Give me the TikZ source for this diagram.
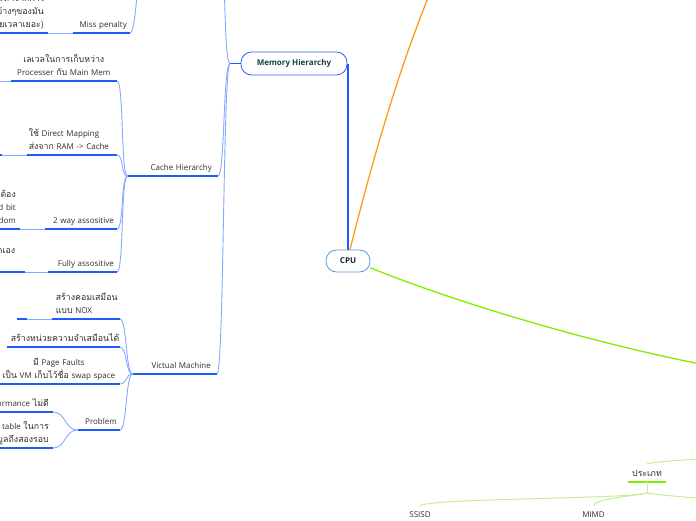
\documentclass[tikz,border=0pt]{standalone}
\usepackage{fontspec}
\setmainfont{Open Sans}
\newfontfamily\thaifont[Script=Thai,Scale=1.1]{Loma}
\newcommand{\tht}[1]{{\thaifont #1}}
\usetikzlibrary{positioning,calc}
\definecolor{Ink}{HTML}{2E2E2E}
\definecolor{LineBlue}{HTML}{1E5BFF}
\definecolor{LinkBlue}{HTML}{86A8FF}
\definecolor{MemBorder}{HTML}{2E63F5}
\definecolor{MemText}{HTML}{17423A}
\definecolor{CpuBorder}{HTML}{5A9BD8}
\definecolor{CpuText}{HTML}{16213E}
\definecolor{Orange}{HTML}{FF9A1A}
\definecolor{Lime}{HTML}{80F000}
\definecolor{LimeLight}{HTML}{C6EE94}

\tikzset{
  topic/.style={font=\fontsize{8}{13}\selectfont, text=Ink, inner xsep=4pt,
    inner ysep=1pt, execute at end node=\strut, anchor=south east},
  leaf/.style={font=\fontsize{8}{13}\selectfont, text=Ink, inner sep=0pt,
    minimum height=18pt},
  uline/.style={LineBlue, line width=1.1pt},
  link/.style={LinkBlue, line width=0.9pt},
  limelink/.style={LimeLight, line width=1pt},
  pill/.style={draw, fill=white, rounded corners=10.5pt, line width=0.8pt,
    font=\fontsize{8}{9}\selectfont\bfseries, inner sep=0pt}
}

\begin{document}
\begin{tikzpicture}[x=1pt,y=-1pt]
  \useasboundingbox (0,0) rectangle (696,520);

  % main topics
  \node[pill, draw=CpuBorder, text=CpuText, minimum width=44pt, minimum height=22pt] (cpu) at (348,261) {CPU};
  \node[pill, draw=MemBorder, text=MemText, minimum width=106pt, minimum height=23pt] (mem) at (294,63.5) {Memory Hierarchy};

  % memory hierarchy branch
  \node[topic, inner xsep=6pt, text width=78pt, align=right] (cache) at (218,176) {Cache Hierarchy};
  \node[topic, inner xsep=6pt, text width=72pt, align=right] (vm) at (217,374) {Victual Machine};
  \node[topic, inner xsep=3pt, text width=51pt, align=right] (miss) at (130,33) {Miss penalty};
  \node[topic, text width=100pt, align=right] (misskid) at (48,33) {\tht{เวลาที่ใช้ในการหาจากการ}\\\tht{เลื่อนไปบล็อกข้างๆของมัน}\\\tht{(เสียเวลาเยอะ)}};

  % cache hierarchy
  \node[topic, inner xsep=2pt, text width=102pt, align=center] (level) at (117,81) {\tht{เลเวลในการเก็บหว่าง}\\Processer \tht{กับ} Main Mem};
  \node[topic, inner xsep=2pt, text width=86pt, align=left] (direct) at (117,155) {\tht{ใช้} Direct Mapping\\\tht{ส่งจาก} RAM -> Cache};
  \node[topic, inner xsep=3pt, text width=66pt, align=right] (twoway) at (117,229) {2 way assositive};
  \node[topic, text width=82pt, align=right] (twowaykid) at (20,229) {\tht{ถ้าเต็มแล้วต้อง}\\\tht{เช็ค} valid bit\\\tht{แทนแบบ} random};
  \node[topic, inner xsep=3pt, text width=63pt, align=right] (fully) at (117,272) {Fully assositive};
  \node[topic, text width=122pt, align=center] (fullykid) at (25,272) {\tht{วางตรงไหนก็ได้ที่เราเลือกเอง}\\\tht{ตามใจ}};

  % victual machine
  \node[topic, text width=60pt, align=left] (nox) at (120,319) {\tht{สร้างคอมเสมือน}\\\tht{แบบ} NOX};
  \node[topic, text width=105pt, align=right] (vmem) at (120,347) {\tht{สร้างหน่วยความจำเสมือนได้}};
  \node[topic, inner xsep=1pt, text width=120pt, align=center] (fault) at (120,384) {\tht{มี} Page Faults\\\tht{เป็น} VM \tht{เก็บไว้ชื่อ} swap space};
  \node[topic, inner xsep=3pt, text width=36pt, align=right] (problem) at (120,430) {Problem};
  \node[topic, text width=105pt, align=right] (perf) at (53,412) {Performance \tht{ไม่ดี}};
  \node[topic, text width=125pt, align=right] (twice) at (53,448) {\tht{ต้องเข้า} Page table \tht{ในการ}\\\tht{เข้าถึงข้อมูลถึงสองรอบ}};

  % green branch
  \node[leaf, minimum width=38pt] (type) at (647,473) {\tht{ประเภท}};
  \node[leaf] (ssisd) at (420,515) {SSISD};
  \node[leaf] (mimd) at (593.5,515) {MIMD};

  % free ends off the page
  \coordinate (memfork) at (230,63.5);
  \coordinate (memup) at (219,-70);
  \coordinate (missparent) at (146,-70);
  \coordinate (levelkid) at (-6,81);
  \coordinate (directkid) at (2,155);
  \coordinate (noxkid) at (27,319);
  \coordinate (orangeend) at (428,-2);
  \coordinate (limeend) at (698,363.5);
  \coordinate (typefork) at (647,493);
  \coordinate (typeparent) at (800,452);
  \coordinate (typekid) at (780,508);

  % connectors
  \draw[LineBlue, line width=1.6pt] ([xshift=0.5pt]mem.east) -- ([xshift=0.5pt]mem.east |- cpu.north);
  \draw[Orange, line width=1.3pt] ([xshift=2pt]cpu.north) .. controls (370,170) and (395,80) .. (orangeend);
  \draw[Lime, line width=1.3pt] (cpu.-17) .. controls (450,300) and (580,340) .. (limeend);

  \draw[uline] (mem.west) -- (memfork);
  \foreach \k in {cache,vm}
    \draw[link] (memfork) .. controls +(-7,0) and +(7,0) .. (\k.south east);
  \draw[link] (memfork) .. controls +(-7,0) and +(7,0) .. (memup);
  \draw[link] (missparent) .. controls +(-8,0) and +(8,0) .. (miss.south east);
  \foreach \k in {level,direct,twoway,fully}
    \draw[link] (cache.south west) .. controls +(-7,0) and +(7,0) .. (\k.south east);
  \foreach \k in {nox,vmem,fault,problem}
    \draw[link] (vm.south west) .. controls +(-7,0) and +(7,0) .. (\k.south east);
  \foreach \k in {perf,twice}
    \draw[link] (problem.south west) .. controls +(-13,0) and +(13,0) .. (\k.south east);
  \draw[link] (miss.south west) -- (misskid.south east);
  \draw[link] (twoway.south west) -- (twowaykid.south east);
  \draw[link] (fully.south west) -- (fullykid.south east);
  \draw[link] (level.south west) -- (levelkid);
  \draw[link] (direct.south west) -- (directkid);
  \draw[link] (nox.south west) -- (noxkid);
  \draw[uline] (directkid) -- ++(-30,0);
  \draw[uline] (noxkid) -- ++(-10,0);

  % underlines
  \foreach \n in {cache,vm,miss,misskid,level,direct,twoway,twowaykid,fully,fullykid,nox,vmem,fault,problem,perf,twice}
    \draw[uline] (\n.south west) -- (\n.south east);

  % type tree
  \draw[limelink] (typeparent) .. controls (760,458) and (665,459) .. (type.north);
  \draw[Lime, line width=1.5pt] (type.south west) -- (type.south east);
  \draw[limelink] (type.south) -- (typefork);
  \draw[limelink] (typefork) .. controls (630,499) and (430,498) .. (ssisd.north);
  \draw[limelink] (typefork) .. controls (625,497) and (595,499) .. (mimd.north);
  \draw[limelink] (typefork) .. controls (670,497) and (740,500) .. (typekid);
\end{tikzpicture}
\end{document}
